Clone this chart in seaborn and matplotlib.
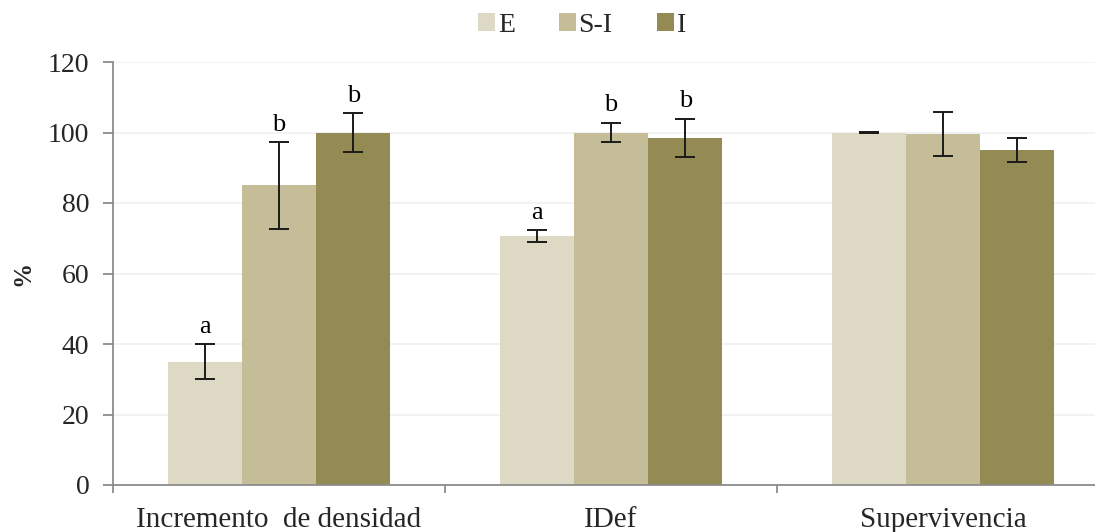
import pandas as pd
import matplotlib.pyplot as plt
import seaborn as sns

# Data
categories = ['Incremento  de densidad', 'IDef', 'Supervivencia']
series = ['E', 'S-I', 'I']
values_E = [35.0, 70.6, 100.0]
values_SI = [85.0, 100.0, 99.6]
values_I = [100.0, 98.5, 95.0]
err_E = [5.0, 1.7, 0.2]
err_SI = [12.3, 2.8, 6.2]
err_I = [5.4, 5.4, 3.5]
letters_E = ['a', 'a', '']
letters_SI = ['b', 'b', '']
letters_I = ['b', 'b', '']
colors = ['#DDD9C4', '#C4BD97', '#948A54']

df = pd.DataFrame({
    'categoria': categories * 3,
    'grupo': [s for s in series for _ in categories],
    'valor': values_E + values_SI + values_I,
})
errs = [err_E, err_SI, err_I]
letters = [letters_E, letters_SI, letters_I]

sns.set_style('white')
plt.rcParams['font.family'] = ['Liberation Serif', 'DejaVu Serif']

fig = plt.figure(figsize=(10.95, 5.32), dpi=100)
ax = fig.add_axes([113 / 1095, 47 / 532, 996 / 1095, 423 / 532])

sns.barplot(data=df, x='categoria', y='valor', hue='grupo', hue_order=series,
            palette=colors, width=0.67, errorbar=None, saturation=1,
            linewidth=0, ax=ax)

# Error bars and significance letters
for cont, e, lab in zip(ax.containers, errs, letters):
    for bar, ev, lt in zip(cont, e, lab):
        xc = bar.get_x() + bar.get_width() / 2
        h = bar.get_height()
        ax.errorbar(xc, h, yerr=ev, fmt='none', ecolor='#1a1a1a',
                    elinewidth=1.4, capsize=7, capthick=1.4, zorder=5)
        if lt:
            ax.text(xc, h + ev + 1.8, lt, ha='center', va='bottom',
                    fontsize=19, color='black')

ax.set_ylim(0, 120)
ax.set_xlim(-0.5, 2.5)
ax.set_yticks(range(0, 121, 20))
ax.yaxis.grid(True, color='#F0F0F0', linewidth=1.2)
ax.set_axisbelow(True)
for s in ['top', 'right']:
    ax.spines[s].set_visible(False)
for s in ['left', 'bottom']:
    ax.spines[s].set_color('#8C8C8C')
    ax.spines[s].set_linewidth(1.3)

ax.tick_params(axis='y', which='major', direction='out', length=7, width=1.3,
               color='#8C8C8C', labelsize=20, pad=10, left=True)
ax.tick_params(axis='x', which='major', length=0, labelsize=21, pad=16)
ax.set_xticks([-0.5, 0.5, 1.5, 2.5], minor=True)
ax.tick_params(axis='x', which='minor', direction='out', length=6, width=1.3,
               color='#8C8C8C', bottom=True)

ax.set_xlabel('')
ax.set_ylabel('%', fontsize=18, fontweight='bold', labelpad=10)

ax.legend(title=None, loc='upper center', bbox_to_anchor=(0.5 - 29 / 996, 1.175),
          ncol=3, frameon=False, fontsize=20, handlelength=0.6,
          handleheight=0.6, handletextpad=0.1, columnspacing=1.6)

fig.savefig('out.png', dpi=100)
